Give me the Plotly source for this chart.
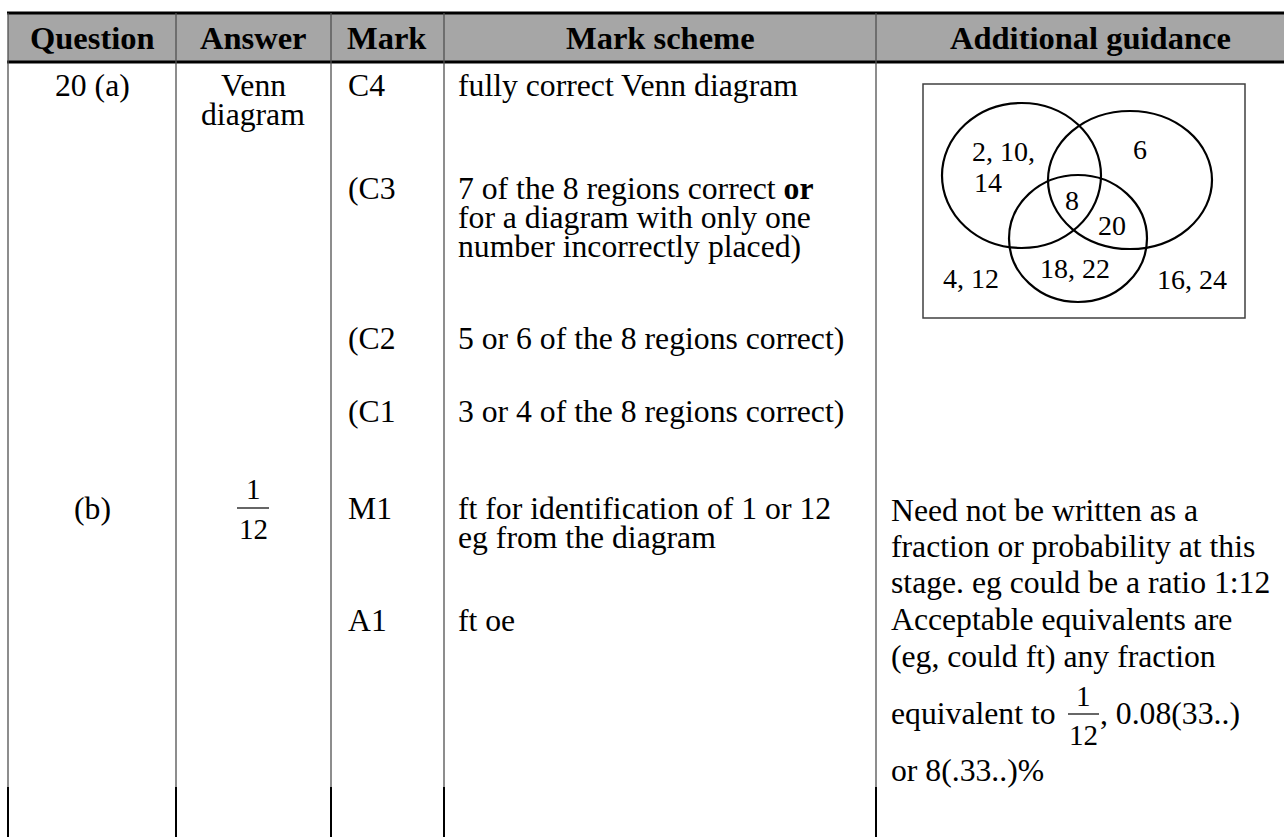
import plotly.graph_objects as go

#%% Conteúdo da tabela
headers = ["Question", "Answer", "Mark", "Mark scheme", "Additional guidance"]
questions = ["20 (a)", "(b)"]
answer_a = ["Venn", "diagram"]
answer_b = ["1", "12"]
marks = ["C4", "(C3", "(C2", "(C1", "M1", "A1"]
scheme_lines = [
    "fully correct Venn diagram",
    "7 of the 8 regions correct <b>or</b>",
    "for a diagram with only one",
    "number incorrectly placed)",
    "5 or 6 of the 8 regions correct)",
    "3 or 4 of the 8 regions correct)",
    "ft for identification of 1 or 12",
    "eg from the diagram",
    "ft oe",
]
guidance_lines = [
    "Need not be written as a",
    "fraction or probability at this",
    "stage. eg could be a ratio 1:12",
    "Acceptable equivalents are",
    "(eg, could ft) any fraction",
    "equivalent to",
    "or 8(.33..)%",
]
guidance_frac = ["1", "12"]
guidance_tail = ", 0.08(33..)"

# Diagrama de Venn
venn_regions = ["2, 10,", "14", "6", "8", "20", "18, 22", "4, 12", "16, 24"]

#%% Layout (pixels)
W, H = 1284, 837
col_x = [8, 176, 331, 444, 876]
header_top, header_bot, body_end = 13, 62, 787
header_cx = [92, 253, 387, 660, 1090]
question_y = [85, 508]
answer_a_y = [85, 114]
mark_y = [85, 188, 338, 411, 508, 620]
scheme_y = [85, 188, 217, 246, 338, 411, 508, 537, 620]
guidance_y = [510, 546, 582, 619, 656, 713, 770]

venn_box = (923, 84, 1245, 318)
circles = [(942, 103, 1101, 248), (1048, 111, 1212, 249), (1009, 175, 1147, 302)]
venn_pos = [(970, 151, "left"), (972, 182, "left"), (1140, 149, "center"),
            (1072, 200, "center"), (1112, 225, "center"), (1075, 268, "center"),
            (971, 278, "center"), (1192, 279, "center")]

FONT = "Liberation Serif, Times New Roman, serif"
FS = 31.7

fig = go.Figure()
shapes = []
ann = []


def txt(x, y, s, anchor="left", size=FS, bold=False):
    ann.append(dict(x=x, y=y, text=f"<b>{s}</b>" if bold else s, showarrow=False,
                    xanchor=anchor, yanchor="middle", xref="x", yref="y",
                    font=dict(family=FONT, size=size, color="black")))


# Cabeçalho
shapes.append(dict(type="rect", x0=col_x[0], x1=W, y0=header_top, y1=header_bot,
                   fillcolor="#a6a6a6", line_width=0, layer="below"))
for y in [header_top, header_bot]:
    shapes.append(dict(type="line", x0=col_x[0] - 1, x1=W, y0=y, y1=y,
                       line=dict(color="black", width=3)))
for x in col_x:
    shapes.append(dict(type="line", x0=x, x1=x, y0=header_top, y1=body_end,
                       line=dict(color="#505050", width=1.3)))
    shapes.append(dict(type="line", x0=x, x1=x, y0=body_end, y1=H,
                       line=dict(color="black", width=2)))
for cx, h in zip(header_cx, headers):
    txt(cx, 38, h, "center", size=32.5, bold=True)

# Question / Answer
for y, q in zip(question_y, questions):
    txt(92, y, q, "center")
for y, a in zip(answer_a_y, answer_a):
    txt(253, y, a, "center")
txt(253, 489, answer_b[0], "center", size=29)
txt(253, 529, answer_b[1], "center", size=29)
shapes.append(dict(type="line", x0=237, x1=269, y0=508, y1=508,
                   line=dict(color="black", width=1.2)))

# Mark / Mark scheme
for y, m in zip(mark_y, marks):
    txt(346, y, m)
for y, s in zip(scheme_y, scheme_lines):
    txt(456, y, s)

# Additional guidance
for y, s in zip(guidance_y, guidance_lines):
    txt(889, y, s)
txt(1083, 696, guidance_frac[0], "center", size=29)
txt(1083, 735, guidance_frac[1], "center", size=29)
shapes.append(dict(type="line", x0=1068, x1=1099, y0=714, y1=714,
                   line=dict(color="black", width=1.2)))
txt(1098, guidance_y[5], guidance_tail)

# Venn
bx0, by0, bx1, by1 = venn_box
shapes.append(dict(type="rect", x0=bx0, x1=bx1, y0=by0, y1=by1,
                   line=dict(color="#404040", width=1.5)))
for x0, y0, x1, y1 in circles:
    shapes.append(dict(type="circle", x0=x0, x1=x1, y0=y0, y1=y1,
                       line=dict(color="black", width=2.2)))
for (x, y, a), s in zip(venn_pos, venn_regions):
    txt(x, y, s, a, size=28)

fig.update_layout(width=W, height=H, margin=dict(l=0, r=0, t=0, b=0),
                  paper_bgcolor="white", plot_bgcolor="white",
                  shapes=shapes, annotations=ann, showlegend=False)
fig.update_xaxes(range=[0, W], visible=False, fixedrange=True)
fig.update_yaxes(range=[H, 0], visible=False, fixedrange=True)
# tira a margem padrão do body e a barra de ferramentas
fig.write_html("out.html", config={"displayModeBar": False},
               post_script="document.body.style.margin='0';")
